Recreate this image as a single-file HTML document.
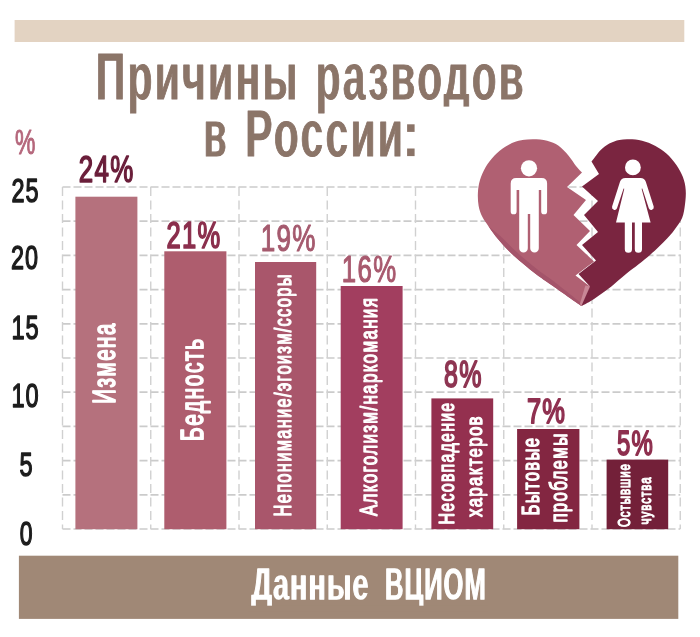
<!DOCTYPE html>
<html><head><meta charset="utf-8"><title>Причины разводов в России</title>
<style>
html,body{margin:0;padding:0;background:#fff;}
body{width:700px;height:637px;overflow:hidden;font-family:"Liberation Sans",sans-serif;}
svg{display:block}
text{font-family:"Liberation Sans",sans-serif;}
</style></head><body>
<svg width="700" height="637" viewBox="0 0 700 637">
<rect width="700" height="637" fill="#ffffff"/>
<defs>
<filter id="erV" x="0" y="0" width="700" height="637" filterUnits="userSpaceOnUse"><feMorphology operator="erode" radius="0 1"/></filter>
<filter id="erH" x="0" y="0" width="700" height="637" filterUnits="userSpaceOnUse"><feMorphology operator="erode" radius="1 0"/></filter>
</defs>
<g opacity="0.999">
<rect x="14.6" y="20" width="669.7" height="22" fill="#e3d3c2"/>
<g stroke="#cbcbcb" stroke-width="1.7" stroke-dasharray="8 3" fill="none"><line x1="62.50" y1="187.00" x2="680.25" y2="187.00"/><line x1="62.50" y1="221.20" x2="680.25" y2="221.20"/><line x1="62.50" y1="255.40" x2="680.25" y2="255.40"/><line x1="62.50" y1="289.60" x2="680.25" y2="289.60"/><line x1="62.50" y1="323.80" x2="680.25" y2="323.80"/><line x1="62.50" y1="358.00" x2="680.25" y2="358.00"/><line x1="62.50" y1="392.20" x2="680.25" y2="392.20"/><line x1="62.50" y1="426.40" x2="680.25" y2="426.40"/><line x1="62.50" y1="460.60" x2="680.25" y2="460.60"/><line x1="62.50" y1="494.80" x2="680.25" y2="494.80"/><line x1="62.50" y1="529.00" x2="680.25" y2="529.00"/></g>
<g stroke="#d0d0d0" stroke-width="1.4" stroke-dasharray="9 4.5" fill="none"><line x1="62.50" y1="187.00" x2="62.50" y2="529.00"/><line x1="150.75" y1="187.00" x2="150.75" y2="529.00"/><line x1="239.00" y1="187.00" x2="239.00" y2="529.00"/><line x1="327.25" y1="187.00" x2="327.25" y2="529.00"/><line x1="415.50" y1="187.00" x2="415.50" y2="529.00"/><line x1="503.75" y1="187.00" x2="503.75" y2="529.00"/><line x1="592.00" y1="187.00" x2="592.00" y2="529.00"/><line x1="680.25" y1="187.00" x2="680.25" y2="529.00"/></g>
<rect x="75.4" y="196.7" width="62.00" height="332.50" fill="#b5717d"/>
<rect x="164.3" y="251.3" width="62.10" height="277.90" fill="#ae5d6e"/>
<rect x="255" y="262" width="61.20" height="267.20" fill="#a9566b"/>
<rect x="340.7" y="286" width="61.90" height="243.20" fill="#a23e5f"/>
<rect x="431.4" y="398.4" width="61.80" height="130.80" fill="#94304f"/>
<rect x="517.1" y="429" width="62.30" height="100.20" fill="#832641"/>
<rect x="606.6" y="459.6" width="61.60" height="69.60" fill="#732039"/>
<g filter="url(#erV)"><text transform="translate(95.76,100.20) scale(0.5990,1)" font-size="68.31" font-weight="bold" fill="#8b7468" letter-spacing="3.76" stroke="#8b7468" stroke-width="1.0" vector-effect="non-scaling-stroke" stroke-linejoin="round" >Причины</text></g>
<g filter="url(#erV)"><text transform="translate(315.80,100.20) scale(0.5945,1)" font-size="68.31" font-weight="bold" fill="#8b7468" letter-spacing="3.76" stroke="#8b7468" stroke-width="1.0" vector-effect="non-scaling-stroke" stroke-linejoin="round" >разводов</text></g>
<rect x="441" y="106.6" width="31" height="9" fill="#ffffff"/>
<g filter="url(#erV)"><text transform="translate(203.58,156.50) scale(0.5508,1)" font-size="68.31" font-weight="bold" fill="#8b7468" stroke="#8b7468" stroke-width="1.0" vector-effect="non-scaling-stroke" stroke-linejoin="round" >в</text></g>
<g filter="url(#erV)"><text transform="translate(245.37,156.50) scale(0.5984,1)" font-size="68.31" font-weight="bold" fill="#8b7468" letter-spacing="3.76" stroke="#8b7468" stroke-width="1.0" vector-effect="non-scaling-stroke" stroke-linejoin="round" >России</text></g>
<rect x="407.1" y="124.3" width="7.5" height="7.6" fill="#8b7468"/><rect x="407.1" y="148.5" width="7.5" height="7.6" fill="#8b7468"/>
<text transform="translate(11.51,201.50) scale(0.7022,1)" font-size="33.43" font-weight="normal" fill="#1c1c1c" letter-spacing="1.34" stroke="#1c1c1c" stroke-width="1.2" vector-effect="non-scaling-stroke" stroke-linejoin="round" >25</text>
<text transform="translate(11.11,269.40) scale(0.7009,1)" font-size="33.43" font-weight="normal" fill="#1c1c1c" letter-spacing="1.34" stroke="#1c1c1c" stroke-width="1.2" vector-effect="non-scaling-stroke" stroke-linejoin="round" >20</text>
<text transform="translate(11.38,338.70) scale(0.7057,1)" font-size="33.43" font-weight="normal" fill="#1c1c1c" letter-spacing="1.34" stroke="#1c1c1c" stroke-width="1.2" vector-effect="non-scaling-stroke" stroke-linejoin="round" >15</text>
<text transform="translate(11.39,407.00) scale(0.7043,1)" font-size="33.43" font-weight="normal" fill="#1c1c1c" letter-spacing="1.34" stroke="#1c1c1c" stroke-width="1.2" vector-effect="non-scaling-stroke" stroke-linejoin="round" >10</text>
<text transform="translate(19.44,475.80) scale(0.7018,1)" font-size="33.58" font-weight="normal" fill="#1c1c1c" stroke="#1c1c1c" stroke-width="1.2" vector-effect="non-scaling-stroke" stroke-linejoin="round" >5</text>
<text transform="translate(19.66,544.60) scale(0.6821,1)" font-size="33.72" font-weight="normal" fill="#1c1c1c" stroke="#1c1c1c" stroke-width="1.2" vector-effect="non-scaling-stroke" stroke-linejoin="round" >0</text>
<text transform="translate(14.97,153.85) scale(0.6647,1)" font-size="34.45" font-weight="normal" fill="#b5677c" stroke="#b5677c" stroke-width="0.9" vector-effect="non-scaling-stroke" stroke-linejoin="round" >%</text>
<text transform="translate(78.73,181.90) scale(0.6964,1)" font-size="37.21" font-weight="normal" fill="#6a1e3a" letter-spacing="1.86" stroke="#6a1e3a" stroke-width="1.4" vector-effect="non-scaling-stroke" stroke-linejoin="round" >24%</text>
<text transform="translate(166.40,248.25) scale(0.6924,1)" font-size="36.92" font-weight="normal" fill="#8b2f4d" letter-spacing="1.85" stroke="#8b2f4d" stroke-width="1.5" vector-effect="non-scaling-stroke" stroke-linejoin="round" >21%</text>
<text transform="translate(260.65,250.90) scale(0.6974,1)" font-size="37.35" font-weight="normal" fill="#a55a6e" letter-spacing="1.87" stroke="#a55a6e" stroke-width="1.0" vector-effect="non-scaling-stroke" stroke-linejoin="round" >19%</text>
<text transform="translate(341.87,281.60) scale(0.6824,1)" font-size="37.79" font-weight="normal" fill="#a8596e" letter-spacing="1.89" stroke="#a8596e" stroke-width="1.0" vector-effect="non-scaling-stroke" stroke-linejoin="round" >16%</text>
<text transform="translate(443.99,387.10) scale(0.6834,1)" font-size="36.63" font-weight="normal" fill="#8e3552" letter-spacing="1.83" stroke="#8e3552" stroke-width="1.6" vector-effect="non-scaling-stroke" stroke-linejoin="round" >8%</text>
<text transform="translate(526.92,423.10) scale(0.7107,1)" font-size="35.9" font-weight="normal" fill="#8f3050" letter-spacing="1.79" stroke="#8f3050" stroke-width="1.6" vector-effect="non-scaling-stroke" stroke-linejoin="round" >7%</text>
<text transform="translate(616.98,455.30) scale(0.6743,1)" font-size="35.47" font-weight="normal" fill="#8e2f4e" letter-spacing="1.77" stroke="#8e2f4e" stroke-width="1.6" vector-effect="non-scaling-stroke" stroke-linejoin="round" >5%</text>
<text transform="translate(114.75,403.64) rotate(-90) scale(0.6543,1)" font-size="31.1" font-weight="normal" fill="#ffffff" letter-spacing="2.49" stroke="#ffffff" stroke-width="1.5" vector-effect="non-scaling-stroke" stroke-linejoin="round" >Измена</text>
<text transform="translate(203.45,441.07) rotate(-90) scale(0.6767,1)" font-size="30.67" font-weight="normal" fill="#ffffff" letter-spacing="2.45" stroke="#ffffff" stroke-width="1.5" vector-effect="non-scaling-stroke" stroke-linejoin="round" >Бедность</text>
<text transform="translate(290.73,516.40) rotate(-90) scale(0.6699,1)" font-size="24.49" font-weight="normal" fill="#ffffff" letter-spacing="1.96" stroke="#ffffff" stroke-width="1.15" vector-effect="non-scaling-stroke" stroke-linejoin="round" >Непонимание/эгоизм/ссоры</text>
<text transform="translate(376.53,516.04) rotate(-90) scale(0.6920,1)" font-size="24.49" font-weight="normal" fill="#ffffff" letter-spacing="1.96" stroke="#ffffff" stroke-width="1.15" vector-effect="non-scaling-stroke" stroke-linejoin="round" >Алкоголизм/наркомания</text>
<text transform="translate(453.73,524.39) rotate(-90) scale(0.6977,1)" font-size="22.75" font-weight="normal" fill="#ffffff" letter-spacing="1.82" stroke="#ffffff" stroke-width="1.15" vector-effect="non-scaling-stroke" stroke-linejoin="round" >Несовпадение</text>
<text transform="translate(481.62,516.89) rotate(-90) scale(0.7395,1)" font-size="22.75" font-weight="normal" fill="#ffffff" letter-spacing="1.82" stroke="#ffffff" stroke-width="1.15" vector-effect="non-scaling-stroke" stroke-linejoin="round" >характеров</text>
<text transform="translate(539.42,515.54) rotate(-90) scale(0.6963,1)" font-size="23.91" font-weight="normal" fill="#ffffff" letter-spacing="1.91" stroke="#ffffff" stroke-width="1.15" vector-effect="non-scaling-stroke" stroke-linejoin="round" >Бытовые</text>
<text transform="translate(567.12,522.60) rotate(-90) scale(0.7037,1)" font-size="23.91" font-weight="normal" fill="#ffffff" letter-spacing="1.91" stroke="#ffffff" stroke-width="1.15" vector-effect="non-scaling-stroke" stroke-linejoin="round" >проблемы</text>
<text transform="translate(630.30,527.04) rotate(-90) scale(0.6850,1)" font-size="16.86" font-weight="normal" fill="#ffffff" letter-spacing="1.35" stroke="#ffffff" stroke-width="1.0" vector-effect="non-scaling-stroke" stroke-linejoin="round" >Остывшие</text>
<text transform="translate(650.50,524.52) rotate(-90) scale(0.6790,1)" font-size="17.15" font-weight="normal" fill="#ffffff" letter-spacing="1.37" stroke="#ffffff" stroke-width="1.0" vector-effect="non-scaling-stroke" stroke-linejoin="round" >чувства</text>
<g id="heart">
<path d="M582,172.5 C581.0,171.4 578.2,168.8 576.0,166.0 C573.8,163.2 571.5,159.1 568.6,155.7 C565.7,152.3 562.2,148.2 558.6,145.7 C555.0,143.2 551.4,141.8 547.1,140.7 C542.8,139.6 537.6,139.3 532.9,139.3 C528.1,139.3 523.1,139.5 518.6,140.7 C514.1,141.9 509.8,143.9 505.7,146.4 C501.6,148.9 497.6,152.2 494.3,155.7 C491.0,159.1 488.1,163.0 485.7,167.1 C483.3,171.2 481.3,175.7 480.0,180.0 C478.7,184.3 478.1,188.6 477.9,192.9 C477.7,197.2 477.9,201.7 478.6,205.7 C479.3,209.7 480.6,213.4 482.3,216.8 C484.0,220.2 486.1,222.9 488.6,226.4 C491.1,229.9 493.8,233.9 497.1,237.9 C500.4,241.9 504.3,246.4 508.6,250.7 C512.9,255.0 518.1,259.6 522.9,263.6 C527.6,267.7 532.4,271.4 537.1,275.0 C541.9,278.6 544.0,279.8 551.4,285.0 C558.8,290.2 576.4,302.5 581.4,306.0 L590.0,286.4 L575.5,275.5 L594.0,261.5 L576.5,245.0 L590.0,231.0 L573.5,215.0 L586.0,200.0 L567.0,187.0 Z" fill="#b06072"/>
<path d="M488.6,226.4 C490.0,228.3 493.8,233.9 497.1,237.9 C500.4,241.9 504.3,246.4 508.6,250.7 C512.9,255.0 518.1,259.6 522.9,263.6 C527.6,267.7 532.4,271.4 537.1,275.0 C541.9,278.6 544.0,279.8 551.4,285.0 C558.8,290.2 576.4,302.5 581.4,306.0 L579.6,301.8 C575.2,298.3 559.7,285.9 553.0,280.8 C546.3,275.7 544.0,274.5 539.4,271.0 C534.8,267.5 530.2,263.8 525.6,259.8 C521.0,255.8 515.9,251.2 511.6,247.2 C507.3,243.2 503.6,239.1 499.8,235.6 C496.0,232.1 490.5,227.9 488.6,226.4 Z" fill="#a4546a"/>
<path d="M585.4,285.6 L590.3,286.6 L582.2,305.8 L579.8,304.2 Z" fill="#c98796"/>
<path d="M591.5,161.5 C592.1,160.8 593.5,159.0 595.0,157.1 C596.5,155.2 598.3,152.2 600.7,150.0 C603.1,147.8 606.2,145.3 609.3,143.6 C612.4,141.9 616.0,140.7 619.3,140.0 C622.6,139.3 625.5,139.2 629.3,139.3 C633.1,139.4 637.8,139.6 642.1,140.7 C646.4,141.8 651.0,143.5 655.0,145.7 C659.0,147.8 662.8,150.4 666.4,153.6 C670.0,156.8 673.6,161.1 676.4,165.0 C679.1,168.9 681.3,172.9 682.9,177.1 C684.5,181.3 685.4,185.5 685.7,190.0 C686.1,194.5 685.6,199.6 685.0,204.3 C684.4,209.0 683.9,213.7 682.1,218.0 C680.3,222.3 676.8,226.6 674.3,230.0 C671.8,233.4 669.7,235.8 667.1,238.6 C664.5,241.4 661.5,244.4 658.6,247.1 C655.8,249.8 653.3,252.1 650.0,255.0 C646.7,257.9 642.6,261.1 638.6,264.3 C634.6,267.5 630.2,270.6 625.7,274.3 C621.2,278.0 615.9,282.8 611.4,286.4 C606.9,290.0 602.2,293.2 598.6,295.7 C595.0,298.2 592.9,299.7 590.0,301.4 C587.1,303.1 582.8,305.2 581.4,306.0 L590.0,286.4 L578.5,274.0 L596.0,260.5 L582.0,245.0 L598.0,232.0 L584.0,215.0 L598.0,201.0 L582.0,186.5 L599.0,174.0 Z" fill="#7a2540"/>
<g fill="#ffffff">
<circle cx="529" cy="168.3" r="8.1"/>
<path d="M516.2,177.9 H541.6 Q547.1,177.9 547.1,183.4 V211.4 A2.95,2.95 0 0 1 541.2,211.4 V190 H538.8 V248.3 A4.3,4.3 0 0 1 530.2,248.3 V214 H527.8 V248.3 A4.3,4.3 0 0 1 519.2,248.3 V190 H516.6 V211.4 A2.95,2.95 0 0 1 510.7,211.4 V183.4 Q510.7,177.9 516.2,177.9 Z"/>
<circle cx="632.9" cy="167.4" r="7.9"/>
<path d="M625.3,177.9 H640.5 Q644.6,177.9 645.8,181.8 L653.7,206.6 A2.6,2.6 0 0 1 648.8,208.3 L642.3,188.5 L641.6,188.7 L650.6,222.6 H642 V249.2 A3.6,3.6 0 0 1 634.8,249.2 V222.6 H632 V249.2 A3.6,3.6 0 0 1 624.8,249.2 V222.6 H616 L624.3,188.7 L623.6,188.5 L617,208.3 A2.6,2.6 0 0 1 612.1,206.6 L620,181.8 Q621.2,177.9 625.3,177.9 Z"/>
</g>
</g>
<rect x="18.9" y="555.7" width="659.4" height="63.2" fill="#a08876"/>
<g filter="url(#erV)"><text transform="translate(251.52,599.90) scale(0.6292,1)" font-size="45.49" font-weight="bold" fill="#ffffff" letter-spacing="1.82" stroke="#ffffff" stroke-width="1.4" vector-effect="non-scaling-stroke" stroke-linejoin="round" >Данные</text></g>
<g filter="url(#erV)"><text transform="translate(385.07,599.90) scale(0.5613,1)" font-size="45.49" font-weight="bold" fill="#ffffff" letter-spacing="1.82" stroke="#ffffff" stroke-width="1.4" vector-effect="non-scaling-stroke" stroke-linejoin="round" >ВЦИОМ</text></g>
<rect x="248" y="605.7" width="240" height="6" fill="#a08876"/>
</g></svg></body></html>
